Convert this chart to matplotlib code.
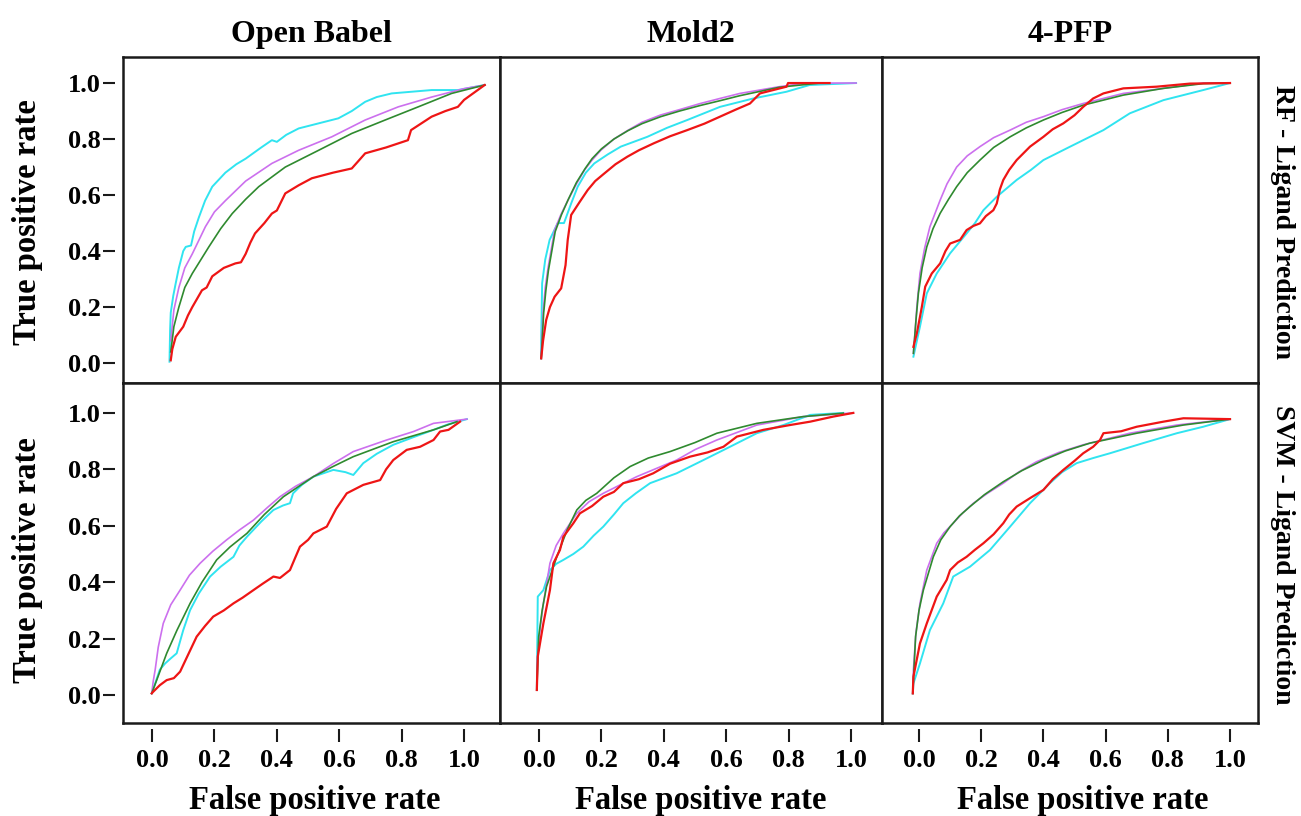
import matplotlib
matplotlib.use("Agg")
import matplotlib.pyplot as plt

plt.rcParams['font.family'] = ['Liberation Serif', 'DejaVu Serif']
plt.rcParams['font.weight'] = 'bold'

columns = ["Open Babel", "Mold2", "4-PFP"]
rows = ["RF - Ligand Prediction", "SVM - Ligand Prediction"]
ticks = [0.0, 0.2, 0.4, 0.6, 0.8, 1.0]
tick_labels = ["0.0", "0.2", "0.4", "0.6", "0.8", "1.0"]

# ROC curves, (FPR, TPR)
# RF - Open Babel
rf_ob_cyan = [(0.056, 0.005), (0.058, 0.12), (0.06, 0.18), (0.068, 0.24), (0.075, 0.28), (0.086, 0.34),
              (0.1, 0.40), (0.108, 0.415), (0.125, 0.42), (0.135, 0.47), (0.15, 0.52), (0.17, 0.58),
              (0.193, 0.63), (0.235, 0.68), (0.27, 0.71), (0.30, 0.73), (0.35, 0.77), (0.384, 0.796),
              (0.40, 0.79), (0.43, 0.815), (0.47, 0.838), (0.53, 0.855), (0.597, 0.874), (0.64, 0.90),
              (0.683, 0.933), (0.72, 0.95), (0.768, 0.963), (0.896, 0.975), (0.98, 0.975), (1.066, 0.993)]
rf_ob_violet = [(0.06, 0.08), (0.07, 0.19), (0.086, 0.27), (0.105, 0.34), (0.129, 0.39), (0.171, 0.487),
                (0.20, 0.54), (0.235, 0.58), (0.30, 0.65), (0.384, 0.713), (0.47, 0.76), (0.576, 0.808),
                (0.683, 0.868), (0.789, 0.915), (0.896, 0.95), (1.0, 0.98), (1.066, 0.993)]
rf_ob_green = [(0.06, 0.04), (0.07, 0.13), (0.086, 0.20), (0.105, 0.27), (0.129, 0.32), (0.182, 0.415),
               (0.22, 0.48), (0.257, 0.534), (0.30, 0.585), (0.342, 0.63), (0.427, 0.70), (0.534, 0.76),
               (0.64, 0.82), (0.747, 0.868), (0.853, 0.915), (0.96, 0.963), (1.066, 0.993)]
rf_ob_red = [(0.06, 0.01), (0.065, 0.05), (0.076, 0.094), (0.10, 0.13), (0.115, 0.17), (0.129, 0.20),
             (0.16, 0.26), (0.175, 0.27), (0.193, 0.31), (0.23, 0.34), (0.267, 0.356), (0.285, 0.36),
             (0.30, 0.39), (0.315, 0.43), (0.33, 0.463), (0.36, 0.50), (0.384, 0.534), (0.40, 0.545),
             (0.427, 0.606), (0.47, 0.635), (0.512, 0.66), (0.58, 0.68), (0.64, 0.695), (0.66, 0.72),
             (0.683, 0.749), (0.75, 0.77), (0.82, 0.796), (0.83, 0.832), (0.896, 0.88), (0.94, 0.90),
             (0.98, 0.915), (1.0, 0.94), (1.066, 0.993)]

# RF - Mold2
rf_mold_cyan = [(0.007, 0.017), (0.007, 0.08), (0.01, 0.285), (0.02, 0.37), (0.034, 0.44), (0.06, 0.50),
                (0.08, 0.50), (0.103, 0.57), (0.124, 0.63), (0.15, 0.68), (0.177, 0.713), (0.22, 0.745),
                (0.262, 0.773), (0.347, 0.808), (0.41, 0.84), (0.475, 0.868), (0.58, 0.915),
                (0.687, 0.945), (0.793, 0.969), (0.867, 0.993), (1.016, 1.0)]
rf_mold_violet = [(0.007, 0.017), (0.013, 0.18), (0.02, 0.27), (0.029, 0.34), (0.05, 0.475), (0.07, 0.53),
                  (0.092, 0.58), (0.12, 0.64), (0.146, 0.69), (0.17, 0.725), (0.198, 0.76), (0.24, 0.80),
                  (0.283, 0.83), (0.33, 0.86), (0.39, 0.886), (0.45, 0.905), (0.517, 0.927),
                  (0.58, 0.945), (0.644, 0.963), (0.77, 0.987), (0.857, 1.0), (1.016, 1.0)]
rf_mold_green = [(0.007, 0.017), (0.015, 0.18), (0.022, 0.26), (0.03, 0.33), (0.052, 0.47), (0.072, 0.53),
                 (0.094, 0.585), (0.12, 0.645), (0.148, 0.695), (0.17, 0.73), (0.20, 0.765),
                 (0.24, 0.80), (0.285, 0.83), (0.33, 0.855), (0.39, 0.88), (0.45, 0.90), (0.517, 0.92),
                 (0.58, 0.937), (0.644, 0.955), (0.77, 0.985), (0.90, 1.0)]
rf_mold_red = [(0.007, 0.017), (0.013, 0.08), (0.023, 0.154), (0.035, 0.2), (0.05, 0.237), (0.071, 0.267),
               (0.08, 0.32), (0.085, 0.35), (0.092, 0.44), (0.103, 0.529), (0.13, 0.575), (0.156, 0.618),
               (0.18, 0.65), (0.209, 0.677), (0.245, 0.71), (0.283, 0.737), (0.32, 0.76),
               (0.368, 0.785), (0.42, 0.81), (0.475, 0.832), (0.53, 0.855), (0.58, 0.88),
               (0.63, 0.905), (0.676, 0.927), (0.708, 0.963), (0.793, 0.987), (0.798, 1.0), (0.931, 1.0)]

# RF - 4-PFP
rf_pfp_cyan = [(-0.018, 0.023), (0.003, 0.13), (0.025, 0.249), (0.057, 0.32), (0.10, 0.392), (0.153, 0.463),
               (0.18, 0.50), (0.207, 0.546), (0.25, 0.594), (0.314, 0.654), (0.36, 0.69), (0.40, 0.725),
               (0.486, 0.773), (0.593, 0.832), (0.678, 0.892), (0.786, 0.939), (0.914, 0.975), (1.0, 1.0)]
rf_pfp_violet = [(-0.018, 0.035), (-0.012, 0.12), (-0.007, 0.20), (0.003, 0.32), (0.018, 0.41),
                 (0.035, 0.487), (0.068, 0.582), (0.09, 0.64), (0.121, 0.70), (0.155, 0.74),
                 (0.196, 0.773), (0.24, 0.805), (0.293, 0.832), (0.345, 0.86), (0.40, 0.88),
                 (0.46, 0.905), (0.528, 0.927), (0.657, 0.963), (0.786, 0.981), (0.914, 1.0), (1.0, 1.0)]
rf_pfp_green = [(-0.018, 0.035), (-0.01, 0.15), (-0.002, 0.249), (0.01, 0.34), (0.025, 0.415),
                (0.045, 0.48), (0.068, 0.535), (0.095, 0.585), (0.121, 0.63), (0.155, 0.68),
                (0.196, 0.725), (0.24, 0.77), (0.293, 0.808), (0.345, 0.84), (0.40, 0.868),
                (0.46, 0.895), (0.528, 0.921), (0.657, 0.957), (0.786, 0.981), (0.914, 0.998), (1.0, 1.0)]
rf_pfp_red = [(-0.018, 0.058), (-0.007, 0.106), (0.009, 0.20), (0.02, 0.273), (0.041, 0.32), (0.068, 0.356),
              (0.085, 0.40), (0.10, 0.427), (0.132, 0.44), (0.153, 0.475), (0.175, 0.49), (0.196, 0.499),
              (0.215, 0.525), (0.239, 0.546), (0.25, 0.57), (0.26, 0.62), (0.271, 0.654), (0.29, 0.69),
              (0.314, 0.725), (0.357, 0.773), (0.40, 0.808), (0.43, 0.835), (0.464, 0.856),
              (0.50, 0.885), (0.528, 0.915), (0.56, 0.945), (0.593, 0.963), (0.657, 0.981),
              (0.764, 0.987), (0.871, 0.998), (1.0, 1.0)]

# SVM - Open Babel
svm_ob_cyan = [(-0.001, 0.006), (0.01, 0.041), (0.025, 0.09), (0.042, 0.112), (0.06, 0.13), (0.079, 0.148),
               (0.10, 0.23), (0.122, 0.301), (0.15, 0.36), (0.186, 0.42), (0.22, 0.455), (0.261, 0.49),
               (0.28, 0.53), (0.304, 0.561), (0.35, 0.615), (0.389, 0.656), (0.42, 0.672), (0.442, 0.68),
               (0.452, 0.715), (0.48, 0.745), (0.517, 0.774), (0.581, 0.798), (0.62, 0.79),
               (0.645, 0.78), (0.677, 0.822), (0.72, 0.855), (0.773, 0.887), (0.84, 0.915),
               (0.902, 0.94), (0.95, 0.96), (1.009, 0.978)]
svm_ob_violet = [(-0.001, 0.006), (0.004, 0.05), (0.01, 0.089), (0.02, 0.17), (0.036, 0.254),
                 (0.06, 0.32), (0.09, 0.372), (0.12, 0.425), (0.154, 0.467), (0.195, 0.51), (0.239, 0.55),
                 (0.28, 0.585), (0.325, 0.62), (0.37, 0.665), (0.41, 0.703), (0.46, 0.74),
                 (0.517, 0.774), (0.58, 0.82), (0.645, 0.863), (0.752, 0.904), (0.838, 0.934),
                 (0.902, 0.963), (1.009, 0.978)]
svm_ob_green = [(-0.001, 0.006), (0.015, 0.053), (0.047, 0.148), (0.08, 0.23), (0.122, 0.325),
                (0.16, 0.40), (0.207, 0.479), (0.25, 0.525), (0.304, 0.573), (0.36, 0.64),
                (0.421, 0.703), (0.517, 0.774), (0.58, 0.81), (0.645, 0.845), (0.773, 0.898),
                (0.902, 0.94), (0.977, 0.969)]
svm_ob_red = [(-0.001, 0.006), (0.004, 0.012), (0.025, 0.035), (0.047, 0.053), (0.07, 0.06), (0.09, 0.083),
              (0.11, 0.13), (0.143, 0.207), (0.17, 0.245), (0.196, 0.278), (0.23, 0.30), (0.261, 0.325),
              (0.29, 0.345), (0.325, 0.372), (0.355, 0.395), (0.389, 0.42), (0.41, 0.415),
              (0.442, 0.443), (0.46, 0.49), (0.474, 0.526), (0.50, 0.55), (0.517, 0.573),
              (0.56, 0.597), (0.59, 0.66), (0.624, 0.715), (0.677, 0.745), (0.731, 0.762),
              (0.75, 0.80), (0.773, 0.833), (0.816, 0.869), (0.859, 0.88), (0.902, 0.904),
              (0.923, 0.934), (0.95, 0.94), (0.987, 0.969)]

# SVM - Mold2
svm_mold_cyan = [(-0.007, 0.018), (-0.004, 0.349), (0.014, 0.372), (0.035, 0.443), (0.055, 0.465),
                 (0.078, 0.479), (0.11, 0.50), (0.142, 0.526), (0.175, 0.565), (0.206, 0.597),
                 (0.24, 0.64), (0.27, 0.68), (0.31, 0.715), (0.356, 0.751), (0.441, 0.786),
                 (0.527, 0.833), (0.612, 0.88), (0.698, 0.928), (0.783, 0.957), (0.869, 0.993), (0.975, 1.0)]
svm_mold_violet = [(-0.007, 0.018), (-0.004, 0.148), (0.004, 0.24), (0.014, 0.325), (0.035, 0.467),
                   (0.055, 0.53), (0.078, 0.573), (0.121, 0.644), (0.16, 0.685), (0.206, 0.715),
                   (0.26, 0.745), (0.313, 0.774), (0.38, 0.805), (0.441, 0.833), (0.5, 0.87),
                   (0.57, 0.904), (0.698, 0.957), (0.847, 0.987), (1.007, 1.0)]
svm_mold_green = [(-0.007, 0.018), (-0.001, 0.207), (0.01, 0.30), (0.024, 0.384), (0.057, 0.49),
                  (0.09, 0.585), (0.121, 0.656), (0.15, 0.69), (0.185, 0.715), (0.24, 0.77),
                  (0.292, 0.81), (0.35, 0.84), (0.42, 0.863), (0.5, 0.895), (0.57, 0.928),
                  (0.698, 0.963), (0.847, 0.987), (0.975, 0.999)]
svm_mold_red = [(-0.007, 0.018), (-0.004, 0.136), (0.014, 0.254), (0.035, 0.372), (0.046, 0.467),
                (0.067, 0.514), (0.078, 0.561), (0.11, 0.609), (0.131, 0.644), (0.17, 0.67),
                (0.206, 0.703), (0.24, 0.72), (0.27, 0.751), (0.32, 0.765), (0.366, 0.786),
                (0.42, 0.82), (0.484, 0.845), (0.54, 0.86), (0.591, 0.88), (0.634, 0.916),
                (0.719, 0.94), (0.804, 0.957), (0.869, 0.969), (0.943, 0.987), (1.007, 1.0)]

# SVM - 4-PFP
svm_pfp_cyan = [(-0.02, 0.006), (-0.018, 0.041), (0.003, 0.112), (0.035, 0.23), (0.078, 0.325), (0.11, 0.42),
                (0.164, 0.455), (0.228, 0.514), (0.293, 0.597), (0.357, 0.68), (0.421, 0.751),
                (0.46, 0.79), (0.507, 0.822), (0.56, 0.84), (0.614, 0.857), (0.721, 0.893),
                (0.829, 0.928), (0.914, 0.951), (1.0, 0.978)]
svm_pfp_violet = [(-0.02, 0.006), (-0.018, 0.089), (-0.01, 0.22), (0.003, 0.325), (0.025, 0.443),
                  (0.057, 0.538), (0.08, 0.575), (0.11, 0.609), (0.14, 0.645), (0.175, 0.68),
                  (0.22, 0.715), (0.271, 0.751), (0.32, 0.79), (0.378, 0.827), (0.45, 0.86),
                  (0.528, 0.887), (0.678, 0.928), (0.829, 0.957), (1.0, 0.978)]
svm_pfp_green = [(-0.02, 0.006), (-0.011, 0.207), (0.0, 0.30), (0.014, 0.372), (0.046, 0.49),
                 (0.07, 0.55), (0.10, 0.597), (0.13, 0.635), (0.164, 0.668), (0.21, 0.71),
                 (0.271, 0.756), (0.33, 0.795), (0.40, 0.833), (0.47, 0.865), (0.55, 0.893),
                 (0.70, 0.928), (0.85, 0.957), (1.0, 0.978)]
svm_pfp_red = [(-0.02, 0.006), (-0.018, 0.065), (0.003, 0.183), (0.025, 0.254), (0.057, 0.349),
               (0.089, 0.408), (0.10, 0.443), (0.125, 0.47), (0.153, 0.49), (0.18, 0.515),
               (0.207, 0.538), (0.24, 0.57), (0.271, 0.609), (0.29, 0.64), (0.314, 0.668),
               (0.36, 0.70), (0.40, 0.727), (0.43, 0.765), (0.464, 0.798), (0.50, 0.83),
               (0.528, 0.857), (0.56, 0.88), (0.582, 0.904), (0.593, 0.928), (0.65, 0.935),
               (0.70, 0.951), (0.786, 0.969), (0.85, 0.981), (1.0, 0.978)]

panels = [[(rf_ob_cyan, rf_ob_violet, rf_ob_green, rf_ob_red),
           (rf_mold_cyan, rf_mold_violet, rf_mold_green, rf_mold_red),
           (rf_pfp_cyan, rf_pfp_violet, rf_pfp_green, rf_pfp_red)],
          [(svm_ob_cyan, svm_ob_violet, svm_ob_green, svm_ob_red),
           (svm_mold_cyan, svm_mold_violet, svm_mold_green, svm_mold_red),
           (svm_pfp_cyan, svm_pfp_violet, svm_pfp_green, svm_pfp_red)]]

colors = ["#30e4f0", "#cc70ee", "#2f8a2f", "#ee1515"]
widths = [1.4, 1.2, 1.2, 1.6]

xlims = [(-0.093, 1.115), (-0.125, 1.099), (-0.119, 1.09)]
ylims = [(-0.071, 1.093), (-0.099, 1.106)]

fig = plt.figure(figsize=(13.01, 8.16), dpi=100)
gs = fig.add_gridspec(2, 3, left=123/1301, right=1258/1301, top=1-57/816, bottom=1-723/816,
                      wspace=0, hspace=0, width_ratios=[377, 382, 376], height_ratios=[326, 340])

for r in range(2):
    for c in range(3):
        ax = fig.add_subplot(gs[r, c])
        for curve, col, lw in zip(panels[r][c], colors, widths):
            xs = [p[0] for p in curve]
            ys = [p[1] for p in curve]
            ax.plot(xs, ys, color=col, lw=lw)
        ax.set_xlim(xlims[c])
        ax.set_ylim(ylims[r])
        ax.set_xticks([])
        ax.set_yticks([])
        for s in ax.spines.values():
            s.set_linewidth(1.8)
            s.set_color("#1a1a1a")
        if c == 0:
            sy = ax.secondary_yaxis(-0.021)
            sy.spines['left'].set_visible(False)
            sy.set_yticks(ticks)
            sy.set_yticklabels(tick_labels, fontsize=19, fontweight='bold')
            sy.tick_params(axis='y', length=8.5, width=1.5, pad=2, color="#1a1a1a")
        if r == 1:
            sx = ax.secondary_xaxis(-0.018)
            sx.spines['bottom'].set_visible(False)
            sx.set_xticks(ticks)
            sx.set_xticklabels(tick_labels, fontsize=19, fontweight='bold')
            sx.tick_params(axis='x', length=9, width=1.5, pad=5, color="#1a1a1a")
        if r == 0:
            ax.set_title(columns[c], fontsize=23, fontweight='bold', pad=11)

# axis labels
for yc in [222, 560]:
    fig.text(28/1301, 1 - yc/816, "True positive rate", rotation=90, ha='center', va='center',
             fontsize=23.5, fontweight='bold')
for xc in [315, 701, 1083]:
    fig.text(xc/1301, 1 - 800/816, "False positive rate", ha='center', va='center',
             fontsize=23.5, fontweight='bold')
for lab, yc in zip(rows, [222, 555]):
    fig.text(1283/1301, 1 - yc/816, lab, rotation=-90, ha='center', va='center',
             fontsize=20, fontweight='bold')

plt.savefig("out.png", dpi=100, facecolor="white")
